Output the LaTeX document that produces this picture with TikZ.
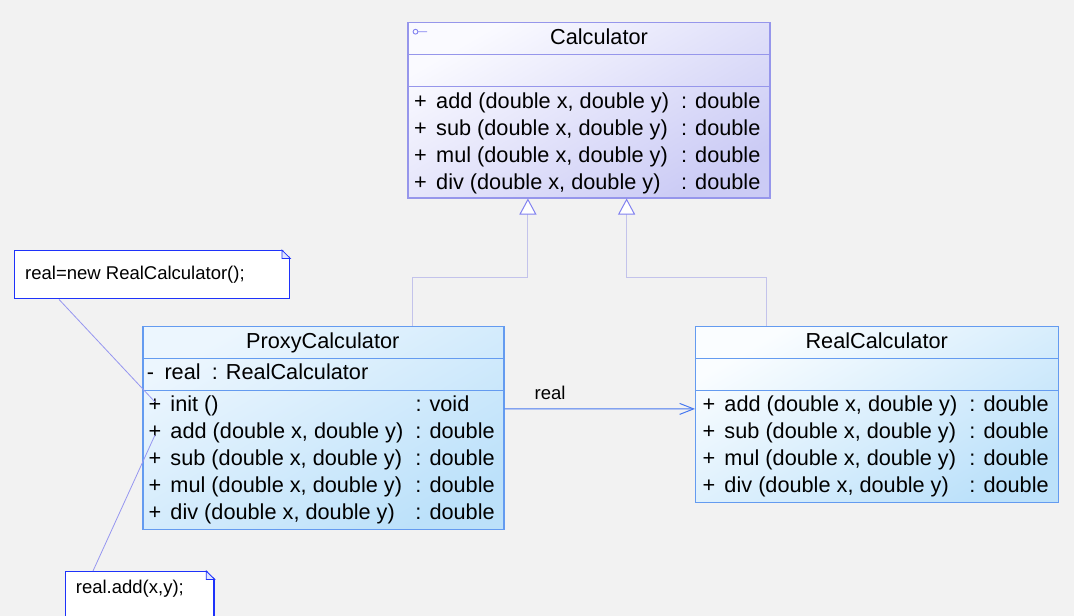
\documentclass[tikz,border=0pt]{standalone}
\usepackage{fontspec}
\setmainfont{Liberation Sans}
\usetikzlibrary{arrows.meta}

\definecolor{bgc}{RGB}{242,242,242}
\definecolor{calcA}{RGB}{250,250,255}
\definecolor{calcB}{RGB}{203,203,245}
\definecolor{calcedge}{RGB}{150,150,235}
\definecolor{proxyA}{RGB}{236,246,254}
\definecolor{realA}{RGB}{250,253,255}
\definecolor{blueB}{RGB}{188,225,250}
\definecolor{blueedge}{RGB}{100,155,240}
\definecolor{notec}{RGB}{30,50,250}
\definecolor{foldc}{RGB}{225,230,255}
\definecolor{linkc}{RGB}{150,150,240}
\definecolor{genc}{RGB}{195,195,235}
\definecolor{gentip}{RGB}{130,130,240}
\definecolor{assoc}{RGB}{70,120,240}

\newcommand{\oprow}[3]{\makebox[22pt][l]{#1}\makebox[245pt][l]{#2}#3}

\tikzset{
  txt/.style={anchor=base west, inner sep=0pt, text=black, font=\fontsize{21.7}{27}\selectfont},
  notetxt/.style={anchor=base west, inner sep=0pt, text=black, font=\fontsize{18.5}{22}\selectfont},
  classbox/.style={anchor=north west, inner sep=0pt, line width=1.2pt},
  calcbox/.style={classbox, draw=calcedge, top color=calcA, bottom color=calcB, shading angle=30},
  proxybox/.style={classbox, draw=blueedge, top color=proxyA, bottom color=blueB, shading angle=30},
  realbox/.style={classbox, draw=blueedge, top color=realA, bottom color=blueB, shading angle=30},
  notebox/.style={anchor=north west, inner sep=0pt, draw=notec, fill=white, line width=1.4pt},
  fold/.style={draw=notec, fill=foldc, line width=0.8pt},
  notelink/.style={draw=linkc, line width=0.8pt},
  genline/.style={draw=genc, line width=1pt, -{Triangle[length=16pt, width=17pt, color=gentip, fill=white]}},
  assocline/.style={draw=assoc, line width=1pt, -{Straight Barb[length=14pt, width=11pt]}}
}

\begin{document}
\begin{tikzpicture}[x=1pt, y=-1pt]
    \useasboundingbox (0,0) rectangle (1074,616);
    \clip (0,0) rectangle (1074,616);
    \fill[bgc] (0,0) rectangle (1074,616);

    % Calculator
    \node (1) [calcbox, minimum width=362, minimum height=175.3] at (407.3,22) {};
    \draw[draw=gentip, line width=0.9pt] (415.5,31.7) circle[radius=2.4pt] (417.9,31.7) -- (427,31.7);
    \node (1t) [txt, anchor=base] at (599,44.3) {Calculator};
    \draw[calcedge, line width=1pt] (407.3,54) -- (769.3,54) (407.3,86) -- (769.3,86);
    \node (1a) [txt] at (414,108) {\oprow{+}{add (double x, double y)}{: double}};
    \node (1b) [txt] at (414,135) {\oprow{+}{sub (double x, double y)}{: double}};
    \node (1c) [txt] at (414,162) {\oprow{+}{mul (double x, double y)}{: double}};
    \node (1d) [txt] at (414,189) {\oprow{+}{div (double x, double y)}{: double}};

    % ProxyCalculator
    \node (2) [proxybox, minimum width=361, minimum height=203] at (142.3,326) {};
    \node (2t) [txt, anchor=base] at (322.8,348.3) {ProxyCalculator};
    \draw[blueedge, line width=1pt] (142.3,358.3) -- (503.3,358.3) (142.3,390) -- (503.3,390);
    \node (2r) [txt] at (146.7,379.3) {\makebox[17.6pt][l]{-}\makebox[47.4pt][l]{real}: RealCalculator};
    \node (2a) [txt] at (148.3,411.5) {\oprow{+}{init ()}{: void}};
    \node (2b) [txt] at (148.3,438.5) {\oprow{+}{add (double x, double y)}{: double}};
    \node (2c) [txt] at (148.3,465.5) {\oprow{+}{sub (double x, double y)}{: double}};
    \node (2d) [txt] at (148.3,492.5) {\oprow{+}{mul (double x, double y)}{: double}};
    \node (2e) [txt] at (148.3,519.5) {\oprow{+}{div (double x, double y)}{: double}};

    % RealCalculator
    \node (3) [realbox, minimum width=362.7, minimum height=175.7] at (695,326) {};
    \node (3t) [txt, anchor=base] at (876.7,348.3) {RealCalculator};
    \draw[blueedge, line width=1pt] (695,358.3) -- (1057.7,358.3) (695,390.7) -- (1057.7,390.7);
    \node (3a) [txt] at (702.3,411.7) {\oprow{+}{add (double x, double y)}{: double}};
    \node (3b) [txt] at (702.3,438.7) {\oprow{+}{sub (double x, double y)}{: double}};
    \node (3c) [txt] at (702.3,465.7) {\oprow{+}{mul (double x, double y)}{: double}};
    \node (3d) [txt] at (702.3,492.7) {\oprow{+}{div (double x, double y)}{: double}};

    % connectors
    \draw[genline] ([xshift=89.2]2.north) -- ++(0,-49) -| ([xshift=-61]1.south);
    \draw[genline] ([xshift=-110.3]3.north) -- ++(0,-49) -| ([xshift=37.7]1.south);
    \draw[assocline] ([yshift=19.2]2.east) -- node (2l) [notetxt, pos=0, xshift=29.7, yshift=9] {real} ([yshift=5.55]3.west);

    % notes
    \node (4) [notebox, minimum width=275, minimum height=48] at (14,250) {};
    \fill[bgc] ([xshift=-8.5,yshift=1]4.north east) -- ([xshift=1,yshift=1]4.north east) -- ([xshift=1,yshift=-8.5]4.north east) -- cycle;
    \draw[fold] ([xshift=-8.5]4.north east) -- ([xshift=-8.5,yshift=-8.5]4.north east) -- ([yshift=-8.5]4.north east) -- cycle;
    \node (4t) [notetxt] at (25,279.3) {real=new RealCalculator();};

    \node (5) [notebox, minimum width=148.3, minimum height=60] at (65,571) {};
    \fill[bgc] ([xshift=-8.5,yshift=1]5.north east) -- ([xshift=1,yshift=1]5.north east) -- ([xshift=1,yshift=-8.5]5.north east) -- cycle;
    \draw[fold] ([xshift=-8.5]5.north east) -- ([xshift=-8.5,yshift=-8.5]5.north east) -- ([yshift=-8.5]5.north east) -- cycle;
    \node (5t) [notetxt] at (75.7,593.3) {real.add(x,y);};

    \coordinate (c1) at (155,402);
    \coordinate (c2) at (155,435);
    \draw[notelink] ([xshift=45]4.south west) -- (c1);
    \draw[notelink] ([xshift=28]5.north west) -- (c2);
\end{tikzpicture}
\end{document}
